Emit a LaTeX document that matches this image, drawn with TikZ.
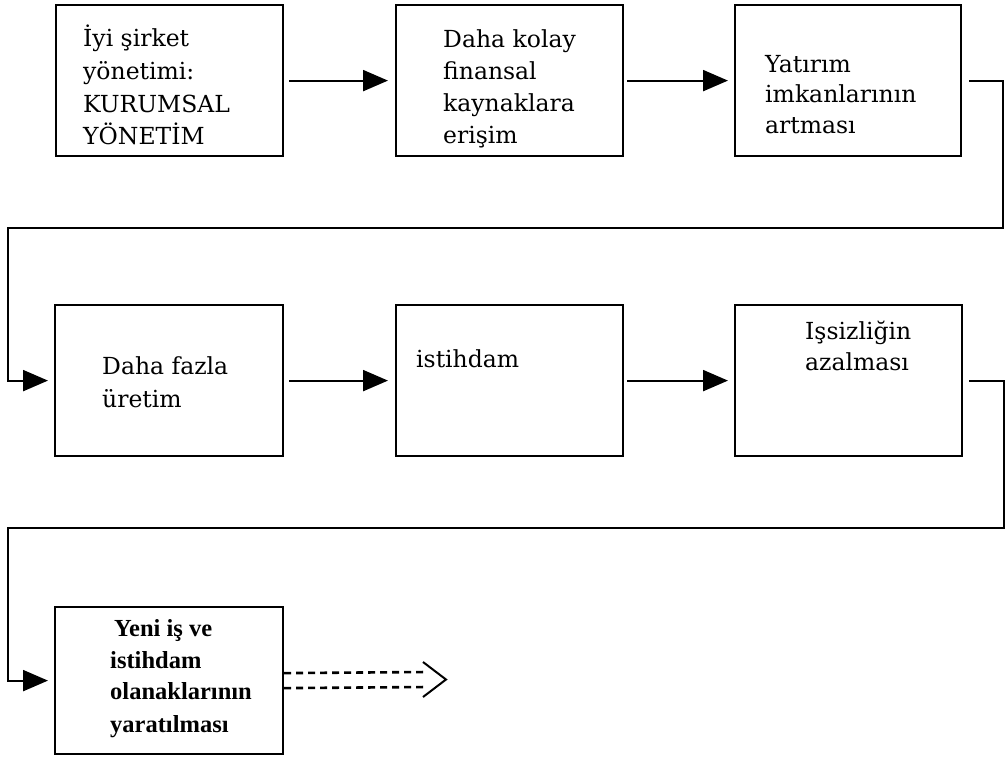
\documentclass[tikz,border=0pt]{standalone}
\usepackage{fontspec}
\setmainfont{DejaVu Serif}
\newfontfamily\boldfam{Liberation Serif}
\usetikzlibrary{arrows.meta}
\newcommand\txtline[4][txt]{\node[#1] (#2) at (#3) {#4};}
\begin{document}
\begin{tikzpicture}[x=1pt,y=-1pt,
  box/.style={draw,line width=2.2pt,minimum width=227pt,minimum height=151pt,inner sep=0pt,anchor=north west},
  txt/.style={inner sep=0pt,anchor=base west,font=\fontsize{23.5}{28}\selectfont},
  btxt/.style={inner sep=0pt,anchor=base west,font=\boldfam\bfseries\fontsize{24.5}{29}\selectfont},
  arr/.style={line width=2.2pt,-{Triangle[length=25pt,width=21pt]}},
  dbl/.style={line width=2.6pt,dash pattern=on 7pt off 5pt},
  chev/.style={line width=2pt}
]
\useasboundingbox (0,0) rectangle (1005,756);
% boxes
\node[box] (b1) at (55,4) {};
\node[box] (b2) at (395,4) {};
\node[box,minimum width=226pt] (b3) at (734,4) {};
\node[box,minimum width=228pt] (b4) at (54,304) {};
\node[box] (b5) at (395,304) {};
\node[box] (b6) at (734,304) {};
\node[box,minimum width=228pt,minimum height=147pt] (b7) at (54,606) {};
% texts
\txtline{t11}{83,46}{İyi şirket}
\txtline{t12}{83,79}{yönetimi:}
\txtline{t13}{83,112}{KURUMSAL}
\txtline{t14}{83,144}{YÖNETİM}
\txtline{t21}{443,47}{Daha kolay}
\txtline{t22}{443,79}{finansal}
\txtline{t23}{443,111}{kaynaklara}
\txtline{t24}{443,143}{erişim}
\txtline{t31}{765,72}{Yatırım}
\txtline{t32}{765,102.5}{imkanlarının}
\txtline{t33}{765,133}{artması}
\txtline{t41}{102,374}{Daha fazla}
\txtline{t42}{102,407}{üretim}
\txtline{t51}{416,367}{istihdam}
\txtline{t61}{805,339}{Işsizliğin}
\txtline{t62}{805,370}{azalması}
\txtline[btxt]{t71}{114,636}{Yeni iş ve}
\txtline[btxt]{t72}{110,668}{istihdam}
\txtline[btxt]{t73}{110,699}{olanaklarının}
\txtline[btxt]{t74}{110,732}{yaratılması}
% straight arrows
\draw[arr,shorten <=5pt,shorten >=7pt] (b1.east) -- (b2.west);
\draw[arr,shorten <=3pt,shorten >=6pt] (b2.east) -- (b3.west);
\draw[arr,shorten <=5pt,shorten >=7pt] (b4.east) -- (b5.west);
\draw[arr,shorten <=3pt,shorten >=6pt] (b5.east) -- (b6.west);
% wrap-around connectors
\coordinate (r1) at (1003,228);
\coordinate (l1) at (8,228);
\draw[arr,shorten <=7pt,shorten >=6pt] (b3.east) -| (r1) -- (l1) |- (b4.west);
\coordinate (r2) at (1004,528);
\coordinate (l2) at (8,528);
\draw[arr,shorten <=6pt,shorten >=6pt] (b6.east) -| (r2) -- (l2) |- (b7.west);
% dashed double arrow
\coordinate (tip) at (446,679.5);
\coordinate (dend) at (428,679.5);
\draw[dbl] ([yshift=7.5pt]b7.east) -- ([yshift=7.5pt]dend);
\draw[dbl] ([yshift=-7.5pt]b7.east) -- ([yshift=-7.5pt]dend);
\draw[chev] ([shift={(-23,-17.5)}]tip) -- (tip) -- ([shift={(-23,17.5)}]tip);
\end{tikzpicture}
\end{document}
